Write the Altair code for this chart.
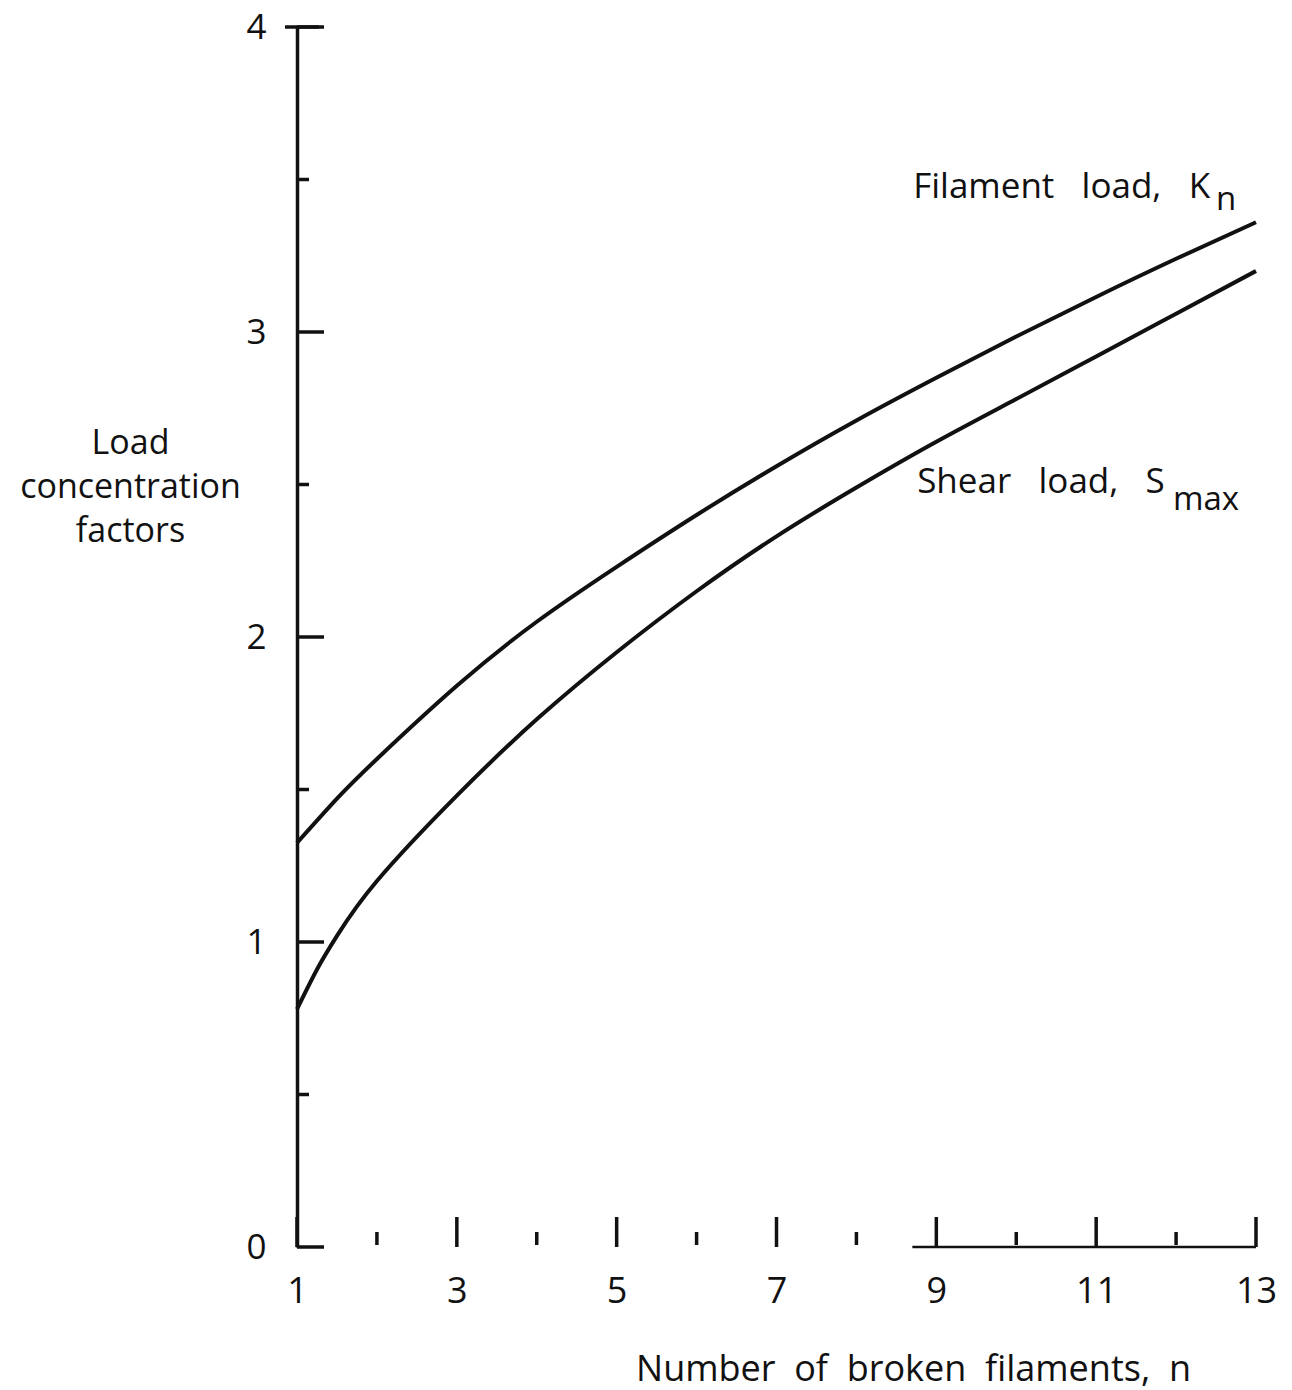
import altair as alt
import pandas as pd

# ---- data ----
n_filament = [1, 1.5, 2, 3, 4, 5, 6, 7, 8, 9, 10, 11, 12, 13]
k_filament = [1.325, 1.47, 1.60, 1.84, 2.05, 2.23, 2.40, 2.56, 2.71, 2.85, 2.985, 3.115, 3.24, 3.36]

n_shear = [1, 1.25, 1.5, 2, 3, 4, 5, 6, 7, 8, 9, 10, 11, 12, 13]
s_shear = [0.78, 0.91, 1.02, 1.20, 1.48, 1.73, 1.95, 2.15, 2.33, 2.49, 2.64, 2.78, 2.92, 3.06, 3.20]

y_major = [0, 1, 2, 3, 4]
y_minor = [0.5, 1.5, 2.5, 3.5]
y_top = [4]
x_major = [1, 3, 5, 7, 9, 11, 13]
x_minor = [2, 4, 6, 8, 10, 12]
baseline_span = [8.7, 13]

label_text = ["Filament\u00a0\u00a0\u00a0load,\u00a0\u00a0\u00a0K", "Shear\u00a0\u00a0\u00a0load,\u00a0\u00a0\u00a0S"]
label_n = [8.71, 8.76]
label_v = [3.439, 2.472]
sub_text = ["n", "max"]
sub_n = [12.50, 11.96]
sub_v = [3.40, 2.416]

y_title = ["Load", "concentration", "factors"]
x_title = "Number\u00a0\u00a0of\u00a0\u00a0broken\u00a0\u00a0filaments,\u00a0\u00a0n"

FONT = "Open Sans"
INK = "#111111"

lines_df = pd.concat([
    pd.DataFrame({"n": n_filament, "v": k_filament, "series": "Filament load"}),
    pd.DataFrame({"n": n_shear, "v": s_shear, "series": "Shear load"}),
])

xs = alt.Scale(domain=[1, 13], nice=False, zero=False)
ys = alt.Scale(domain=[0, 4], nice=False, zero=True)

x_axis = alt.Axis(values=x_major, format="d", ticks=False, domain=False, grid=False,
                  labelFontSize=36, labelFont=FONT, labelColor=INK,
                  labelPadding=27, labelFlush=False, labelOverlap=False,
                  title=x_title, titleFont=FONT, titleFontSize=36,
                  titleFontWeight="normal", titleColor=INK,
                  titleAnchor="start", titleAlign="center",
                  titleBaseline="alphabetic", titleX=616, titleY=133)
y_axis = alt.Axis(values=y_major, format="d", ticks=False, domain=True, domainWidth=3.5,
                  domainColor=INK, grid=False,
                  labelFontSize=35, labelFont=FONT, labelColor=INK,
                  labelPadding=31, labelFlush=False, labelOverlap=False,
                  title=y_title, titleFont=FONT, titleFontSize=34,
                  titleFontWeight="normal", titleColor=INK,
                  titleAngle=0, titleAlign="center", titleAnchor="start",
                  titleBaseline="alphabetic", titleX=-167, titleY=426,
                  titleLineHeight=44)

curves = alt.Chart(lines_df).mark_line(color=INK, strokeWidth=4,
                                      interpolate="natural").encode(
    x=alt.X("n:Q", scale=xs, axis=x_axis),
    y=alt.Y("v:Q", scale=ys, axis=y_axis),
    detail="series:N",
)

ymaj = alt.Chart(pd.DataFrame({"v": y_major})).mark_rule(
    color=INK, strokeWidth=3.5).encode(
    y=alt.Y("v:Q", scale=ys), x=alt.value(0), x2=alt.value(27))
ytop = alt.Chart(pd.DataFrame({"v": y_top})).mark_rule(
    color=INK, strokeWidth=3.5).encode(
    y=alt.Y("v:Q", scale=ys), x=alt.value(-12), x2=alt.value(22))
ymin = alt.Chart(pd.DataFrame({"v": y_minor})).mark_rule(
    color=INK, strokeWidth=3.5).encode(
    y=alt.Y("v:Q", scale=ys), x=alt.value(0), x2=alt.value(12))
xmaj = alt.Chart(pd.DataFrame({"n": x_major})).mark_rule(
    color=INK, strokeWidth=3.5).encode(
    x=alt.X("n:Q", scale=xs), y=alt.value(1220), y2=alt.value(1190))
xmin = alt.Chart(pd.DataFrame({"n": x_minor})).mark_rule(
    color=INK, strokeWidth=3.5).encode(
    x=alt.X("n:Q", scale=xs), y=alt.value(1218), y2=alt.value(1205))
base = alt.Chart(pd.DataFrame({"n": [baseline_span[0]], "n2": [baseline_span[1]], "v": [0]})).mark_rule(
    color=INK, strokeWidth=2.5).encode(
    x=alt.X("n:Q", scale=xs), x2="n2:Q", y=alt.Y("v:Q", scale=ys))

labels = alt.Chart(pd.DataFrame({"n": label_n, "v": label_v, "t": label_text})).mark_text(
    align="left", baseline="alphabetic", font=FONT, fontSize=35, color=INK).encode(
    x=alt.X("n:Q", scale=xs), y=alt.Y("v:Q", scale=ys), text="t:N")
subs = alt.Chart(pd.DataFrame({"n": sub_n, "v": sub_v, "t": sub_text})).mark_text(
    align="left", baseline="alphabetic", font=FONT, fontSize=33, color=INK).encode(
    x=alt.X("n:Q", scale=xs), y=alt.Y("v:Q", scale=ys), text="t:N")

chart = alt.layer(curves, ymaj, ytop, ymin, xmaj, xmin, base, labels, subs).properties(
    width=959, height=1220,
    padding={"left": 297, "top": 27, "right": 36, "bottom": 143},
    autosize=alt.AutoSizeParams(type="none"),
    background="white",
).configure_view(stroke=None)

chart.save("out.html", embed_options={"renderer": "svg", "actions": False})
